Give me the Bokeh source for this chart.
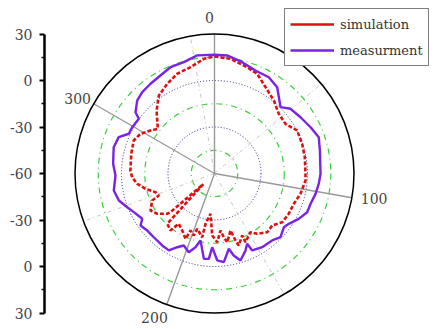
import numpy as np
from bokeh.plotting import figure
from bokeh.models import Range1d, LinearAxis, FixedTicker, Legend, LegendItem, ColumnDataSource
from bokeh.core.properties import value
from bokeh.embed import file_html
from bokeh.resources import INLINE

# ---------------- data ----------------
R_MIN, R_MAX = -60, 30
RADIAL_TICKS = [30, 0, -30, -60, -30, 0, 30]          # left axis, top to bottom
RADIAL_MINOR = [15, -15, -45, -45, -15, 15]
ANGLE_TICKS = [0, 100, 200, 300]
ANGLE_MINOR = [50, 150, 250, 350]
BLUE_RINGS = [-30, 0]
GREEN_RINGS = [-45, -15, 15]

sim_angle = [0, 7.9, 17.1, 23.2, 30.6, 39.1, 47.1, 55.0, 62.5, 71.3, 79.8, 90.2, 94.4, 103.3,
             110.9, 118.5, 125.7, 132.0, 138.1, 144.7, 148.5, 155.7, 155.9, 161.4, 162.6, 164.3,
             169.5, 171.7, 174.0, 177.7, 182.1, 185.7, 190.1, 190.9, 197.4, 198.5, 202.8, 203.9,
             209.5, 215.4, 217.7, 223.2, 226.5, 228.7, 229.6, 234.9, 240.0, 246.6, 248.4, 252.4,
             257.5, 262.4, 267.4, 272.0, 283.3, 292.2, 298.2, 303.9, 308.3, 317.4, 324.5, 332.2,
             339.5, 347.3, 354.7]
sim_value = [15.5, 14.7, 11.7, 10.0, 4.7, 0.7, -3.4, -4.1, 0.1, -0.3, -0.8, -1.3, -1.1, -3.0,
             -5.2, -5.5, -6.2, -9.9, -9.1, -12.3, -15.6, -11.4, -16.2, -11.0, -14.7, -21.8,
             -14.9, -18.5, -23.0, -15.6, -20.0, -33.9, -27.0, -18.1, -22.6, -17.8, -20.1, -13.9,
             -17.7, -20.2, -13.5, -15.5, -50.0, -22.2, -19.9, -14.8, -12.3, -16.2, -21.4, -20.1,
             -14.4, -9.7, -6.8, -5.7, -4.8, -3.7, -5.8, -10.3, -13.4, -4.8, 1.8, 5.4,
             8.7, 10.3, 14.3]

meas_angle = [0, 6.1, 14.0, 21.7, 29.4, 36.0, 44.9, 49.6, 56.8, 64.3, 70.8, 77.7, 90.2, 95.6,
              101.4, 107.5, 112.7, 118.3, 124.1, 127.8, 134.0, 139.3, 147.1, 153.9, 155.1, 158.1,
              163.4, 166.8, 169.2, 174.0, 178.2, 181.8, 183.8, 187.1, 191.8, 194.5, 198.1, 203.1,
              206.8, 210.7, 216.0, 223.6, 229.7, 234.9, 237.9, 244.4, 248.9, 254.2, 260.4, 268.8,
              275.5, 284.6, 290.8, 294.9, 299.4, 305.9, 307.8, 313.4, 318.4, 324.5, 331.1, 337.5,
              344.6, 351.7]
meas_value = [16.6, 16.6, 14.0, 11.5, 11.3, 8.8, 0.4, 4.4, 6.3, 8.8, 11.2, 9.6, 8.4, 7.6,
              6.5, 5.0, 4.8, 1.7, -2.1, -3.4, -0.8, -3.0, -3.4, -4.7, -10.0, -6.4,
              -1.4, -5.7, -10.6, -2.5, -3.9, -12.4, -4.8, -4.5, -15.9, -10.9, -6.6, -9.5,
              -6.7, -2.3, -2.6, -3.2, -3.1, -1.7, -5.0, -2.3, 0.4, 4.1, 5.9, 3.9,
              5.7, 7.2, 6.1, 0.9, 0.9, 0.3, 4.5, 8.6, 10.2, 11.1, 12.2, 14.2,
              14.5, 17.0]

SERIF = "DejaVu Serif"

# ---------------- helpers ----------------
def rho(v):
    return np.asarray(v, dtype=float) - R_MIN          # radial distance in axis units

def polar(ang, val, close=True):
    a = list(ang) + ([ang[0]] if close else [])
    v = list(val) + ([val[0]] if close else [])
    t = np.radians(a)
    r = rho(v)
    return r * np.sin(t), r * np.cos(t)

RMAX = float(rho(R_MAX))
PX = 139.5 / RMAX                     # screen px per unit
CX, CY = 214 - 44, 173                # centre in frame px
FW, FH = 436 - 44, 329

p = figure(width=436, height=329,
           x_range=Range1d(-CX / PX, (FW - CX) / PX),
           y_range=Range1d(-(FH - CY) / PX, CY / PX),
           output_backend="svg", toolbar_location=None,
           min_border_left=44, min_border_right=0, min_border_top=0, min_border_bottom=0,
           x_axis_location=None, y_axis_location=None)
p.outline_line_color = None
p.grid.visible = False
p.background_fill_color = "white"
p.border_fill_color = "white"

# rings
p.circle(x=[0] * len(GREEN_RINGS), y=[0] * len(GREEN_RINGS), radius=list(rho(GREEN_RINGS)),
         fill_color=None, line_color="#3ccf3c", line_width=1.2, line_dash="6 4 1 4")
p.circle(x=[0] * len(BLUE_RINGS), y=[0] * len(BLUE_RINGS), radius=list(rho(BLUE_RINGS)),
         fill_color=None, line_color="#2a2a9a", line_width=1, line_dash="1 2")

# spokes
tm = np.radians(ANGLE_MINOR)
p.segment(x0=0, y0=0, x1=RMAX * np.sin(tm), y1=RMAX * np.cos(tm),
          line_color="#c8c8c8", line_width=1, line_dash="4 3 1 3")
tM = np.radians(ANGLE_TICKS)
p.segment(x0=0, y0=0, x1=RMAX * np.sin(tM), y1=RMAX * np.cos(tM),
          line_color="#9a9a9a", line_width=1.4)

# outer circle
p.circle(x=[0], y=[0], radius=[RMAX], fill_color=None, line_color="black", line_width=1.5)

# series
sx, sy = polar(sim_angle, sim_value)
mx, my = polar(meas_angle, meas_value)
RED = "#dd1111"
PURPLE = "#7a22e6"
p.line(sx, sy, line_color=RED, line_width=2.6, line_dash="4 2")
r_meas = p.line(mx, my, line_color=PURPLE, line_width=2.4)
r_sim_leg = p.line(x=[0], y=[0], line_color=RED, line_width=2.4)

# angle labels
lab_r = 158 / PX
la = np.radians(ANGLE_TICKS)
src = ColumnDataSource(dict(
    x=list(lab_r * np.sin(la)), y=list(lab_r * np.cos(la)),
    t=[str(a) for a in ANGLE_TICKS], xo=[-5, 4, -6, 0], yo=[2, -2, -4, 4]))
p.text(x="x", y="y", text="t", x_offset="xo", y_offset="yo", source=src,
       text_font=value(SERIF), text_font_size="14px", text_color="#444444",
       text_align="center", text_baseline="middle")

# left radial axis
n = len(RADIAL_TICKS)
half = (n - 1) // 2
tick_pos = [float(rho(v)) * (1 if i < half else (-1 if i > half else 0))
            for i, v in enumerate(RADIAL_TICKS)]
minor_pos = [float(rho(v)) * (1 if i < len(RADIAL_MINOR) // 2 else -1)
             for i, v in enumerate(RADIAL_MINOR)]
ax = LinearAxis(ticker=FixedTicker(ticks=tick_pos, minor_ticks=minor_pos),
                major_label_overrides={tp: str(lbl) for tp, lbl in zip(tick_pos, RADIAL_TICKS)},
                bounds=(-RMAX, RMAX))
ax.axis_line_width = 2.5
ax.axis_line_color = "black"
ax.major_tick_line_width = 2
ax.major_tick_out = 5
ax.major_tick_in = 0
ax.minor_tick_line_width = 1.5
ax.minor_tick_out = 3
ax.minor_tick_in = 0
ax.major_label_text_font = SERIF
ax.major_label_text_font_size = "14px"
ax.major_label_text_color = "#444444"
ax.major_label_standoff = 7
p.add_layout(ax, "left")

legend = Legend(items=[LegendItem(label="simulation", renderers=[r_sim_leg]),
                       LegendItem(label="measurment", renderers=[r_meas])],
                location=(240, 263))
legend.border_line_color = "black"
legend.border_line_width = 1
legend.background_fill_alpha = 1
legend.padding = 5
legend.spacing = 6
legend.margin = 0
legend.glyph_width = 44
legend.glyph_height = 20
legend.label_height = 20
legend.label_standoff = 6
legend.label_text_font = SERIF
legend.label_text_font_size = "13px"
legend.label_text_color = "#333333"
p.add_layout(legend)

open("out.html", "w").write(file_html(p, INLINE))
